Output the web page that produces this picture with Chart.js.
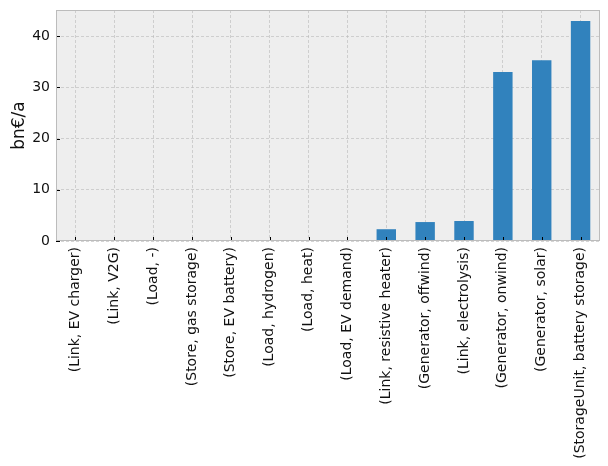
<!DOCTYPE html>
<html>
<head>
<meta charset="utf-8">
<script src="https://cdn.jsdelivr.net/npm/chart.js@4"></script>
<style>
  html, body { margin: 0; padding: 0; background: #fff; }
  #wrap { width: 608px; height: 466px; }
</style>
</head>
<body>
<div id="wrap"><canvas id="chart" width="608" height="466"></canvas></div>
<script>
// Kategoriler ve değerler (bn€/a)
const categories = [
    '(Link, EV charger)', '(Link, V2G)', '(Load, -)', '(Store, gas storage)',
    '(Store, EV battery)', '(Load, hydrogen)', '(Load, heat)', '(Load, EV demand)',
    '(Link, resistive heater)', '(Generator, offwind)', '(Link, electrolysis)',
    '(Generator, onwind)', '(Generator, solar)', '(StorageUnit, battery storage)'
];
const costs = [0, 0, 0, 0, 0, 0, 0, 0, 2.3, 3.7, 3.9, 33.0, 35.3, 42.95];
const yTicks = [0, 10, 20, 30, 40];
const yMax = 45.1;

// Arka plan, çerçeve ve içe dönük tik çizgileri (bmh stili)
const bmhPlugin = {
    id: 'bmh',
    beforeDraw(chart) {
        const { ctx, chartArea: a } = chart;
        ctx.save();
        ctx.fillStyle = '#eeeeee';
        ctx.fillRect(a.left, a.top, a.right - a.left, a.bottom - a.top);
        ctx.restore();
    },
    afterDraw(chart) {
        const { ctx, chartArea: a, scales } = chart;
        ctx.save();
        ctx.strokeStyle = '#000';
        ctx.lineWidth = 1;
        scales.x.ticks.forEach((t, i) => {
            const x = Math.round(scales.x.getPixelForTick(i)) + 0.5;
            ctx.beginPath();
            ctx.moveTo(x, a.bottom);
            ctx.lineTo(x, a.bottom - 4);
            ctx.stroke();
        });
        scales.y.ticks.forEach((t, i) => {
            const y = Math.round(scales.y.getPixelForTick(i)) + 0.5;
            ctx.beginPath();
            ctx.moveTo(a.left, y);
            ctx.lineTo(a.left + 4, y);
            ctx.stroke();
        });
        ctx.strokeStyle = '#bcbcbc';
        ctx.strokeRect(a.left + 0.5, a.top + 0.5, a.right - a.left - 1, a.bottom - a.top - 1);
        ctx.restore();
    }
};

const tickFont = { family: 'DejaVu Sans', size: 14 };

new Chart(document.getElementById('chart'), {
    type: 'bar',
    data: {
        labels: categories,
        datasets: [{
            data: costs,
            backgroundColor: '#3182bd',
            barPercentage: 0.5,
            categoryPercentage: 1.0
        }]
    },
    options: {
        responsive: false,
        animation: false,
        layout: { padding: { top: 10, right: 8 } },
        plugins: { legend: { display: false }, tooltip: { enabled: false } },
        scales: {
            x: {
                z: 1,
                offset: true,
                grid: { offset: false, color: '#b9b9b9', lineWidth: 0.6, drawTicks: false },
                border: { display: false, dash: [3, 2] },
                ticks: { font: tickFont, color: '#111', maxRotation: 90, minRotation: 90, padding: 6, autoSkip: false },
                afterFit(scale) {
                    scale.height = 225;
                    scale.paddingLeft = 0;
                    scale.paddingRight = 0;
                }
            },
            y: {
                z: 1,
                min: 0,
                max: yMax,
                afterBuildTicks(scale) { scale.ticks = yTicks.map(v => ({ value: v })); },
                grid: { color: '#b9b9b9', lineWidth: 0.6, drawTicks: false },
                border: { display: false, dash: [3, 2] },
                ticks: { font: tickFont, color: '#111', padding: 6 },
                title: { display: true, text: 'bn€/a', font: { family: 'DejaVu Sans', size: 17 }, color: '#111', padding: { top: 9, bottom: 4 } },
                afterFit(scale) {
                    scale.width = 56;
                    scale.paddingTop = 0;
                    scale.paddingBottom = 0;
                }
            }
        }
    },
    plugins: [bmhPlugin]
});
</script>
</body>
</html>
